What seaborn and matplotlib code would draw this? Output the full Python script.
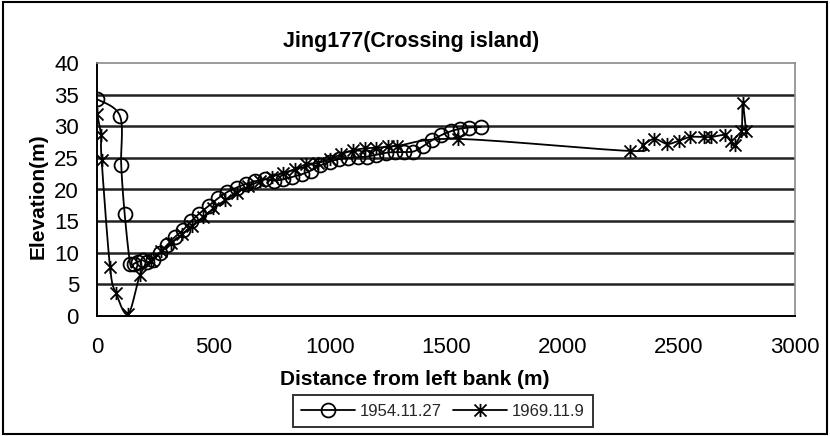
import numpy as np
import pandas as pd
import matplotlib
matplotlib.use("Agg")
import matplotlib.pyplot as plt
import seaborn as sns
from matplotlib.path import Path
from matplotlib.lines import Line2D
from matplotlib.patches import Rectangle

# Cross-section survey, Jing177 (crossing island)
dist_1954 = [0, 99, 104, 119, 143, 160, 178, 196, 215, 240, 270, 300, 335, 370,
             405, 440, 480, 520, 560, 600, 640, 680, 720, 760, 800, 840, 880,
             920, 960, 1000, 1040, 1080, 1120, 1160, 1200, 1240, 1280, 1320,
             1360, 1400, 1440, 1480, 1520, 1560, 1600, 1650]
elev_1954 = [34.3, 31.6, 23.9, 16.1, 8.2, 8.3, 8.6, 8.8, 8.5, 8.9, 10.0, 11.2,
             12.5, 13.6, 15.0, 16.2, 17.4, 18.6, 19.6, 20.3, 20.9, 21.3, 21.6,
             21.4, 21.6, 22.0, 22.4, 23.0, 23.8, 24.4, 24.8, 25.0, 25.1, 25.2,
             25.5, 25.8, 25.9, 25.9, 26.0, 26.8, 27.8, 28.6, 29.2, 29.6, 29.8,
             29.9]

dist_1969 = [0, 17, 20, 56, 82, 134, 185, 230, 275, 320, 365, 410, 455, 500,
             550, 600, 650, 700, 750, 800, 850, 900, 950, 1000, 1050, 1100,
             1150, 1200, 1250, 1290, 1550, 2290, 2345, 2395, 2450, 2500, 2550,
             2610, 2640, 2700, 2725, 2740, 2770, 2775, 2790]
elev_1969 = [32.0, 28.6, 24.6, 7.7, 3.6, 0.3, 6.5, 8.7, 10.2, 11.6, 12.9, 14.3,
             15.6, 17.0, 18.3, 19.5, 20.5, 21.3, 22.0, 22.6, 23.2, 24.0, 24.2,
             24.8, 25.6, 26.2, 26.5, 26.6, 26.8, 26.9, 28.0, 26.1, 27.0, 28.0,
             27.2, 27.7, 28.3, 28.3, 28.3, 28.6, 27.6, 27.0, 29.3, 33.6, 29.2]

series_labels = ["1954.11.27", "1969.11.9"]
x_ticks = [0, 500, 1000, 1500, 2000, 2500, 3000]
y_ticks = [0, 5, 10, 15, 20, 25, 30, 35, 40]
title = "Jing177(Crossing island)"
x_label = "Distance from left bank (m)"
y_label = "Elevation(m)"

sns.set_theme(style="white")
plt.rcParams["font.family"] = ["Liberation Sans", "DejaVu Sans"]

W, H, DPI = 830, 436, 100
fig = plt.figure(figsize=(W / DPI, H / DPI), dpi=DPI)
ax_rect = [97 / W, 1 - 316 / H, 698 / W, 253 / H]
ax = fig.add_axes(ax_rect)
xmin, xmax = x_ticks[0], x_ticks[-1]
ymin, ymax = y_ticks[0], y_ticks[-1]


def smooth(x, y, n=14):
    """Bezier smoothing of a polyline, evaluated in screen proportions."""
    sx = ax_rect[2] * W / (xmax - xmin)
    sy = ax_rect[3] * H / (ymax - ymin)
    P = np.column_stack([np.asarray(x, float) * sx, np.asarray(y, float) * sy])
    Pe = np.vstack([P[0], P, P[-1]])
    t = np.linspace(0, 1, n, endpoint=False)[:, None]
    parts = []
    for i in range(len(P) - 1):
        p0, p1, p2, p3 = Pe[i], Pe[i + 1], Pe[i + 2], Pe[i + 3]
        c1 = p1 + (p2 - p0) / 6
        c2 = p2 - (p3 - p1) / 6
        parts.append((1 - t) ** 3 * p1 + 3 * (1 - t) ** 2 * t * c1
                     + 3 * (1 - t) * t ** 2 * c2 + t ** 3 * p2)
    parts.append(P[-1:])
    pts = np.vstack(parts)
    return pts[:, 0] / sx, pts[:, 1] / sy


# asterisk marker: an X crossed by a vertical stroke
star = Path([(-1, -1), (1, 1), (-1, 1), (1, -1), (0, -1.1), (0, 1.1)],
            [Path.MOVETO, Path.LINETO] * 3)
CIRCLE_MS, STAR_MS = 10, 9.5

for y in y_ticks[1:-1]:
    ax.axhline(y, color="#222222", lw=1.8, zorder=1)

series = [(dist_1954, elev_1954, "o"), (dist_1969, elev_1969, star)]
for (dx, el, mk), lab in zip(series, series_labels):
    sx_, sy_ = smooth(dx, el)
    curve = pd.DataFrame({"d": sx_, "e": sy_})
    sns.lineplot(data=curve, x="d", y="e", sort=False, estimator=None,
                 color="black", lw=1.3, ax=ax, zorder=3)
    pts = pd.DataFrame({"d": dx, "e": el})
    sns.lineplot(data=pts, x="d", y="e", sort=False, estimator=None,
                 linestyle="", marker=mk,
                 markersize=CIRCLE_MS if mk == "o" else STAR_MS,
                 markerfacecolor="none", markeredgecolor="black",
                 markeredgewidth=1.3, ax=ax, zorder=4)

ax.set_xlim(xmin, xmax)
ax.set_ylim(ymin, ymax)
ax.set_xticks(x_ticks)
ax.set_yticks(y_ticks)
ax.tick_params(axis="both", which="both", direction="out", length=4, width=1.2,
               color="black", labelsize=16, labelcolor="black")
ax.tick_params(axis="x", pad=11)
ax.tick_params(axis="y", pad=9)
for side in ("left", "bottom"):
    ax.spines[side].set_color("black")
    ax.spines[side].set_linewidth(1.4)
for side in ("top", "right"):
    ax.spines[side].set_color("#8a8a8a")
    ax.spines[side].set_linewidth(1.2)

ax.set_xlabel(x_label, fontsize=15, fontweight="bold", color="black")
ax.xaxis.set_label_coords((415 - 97) / 698, -(379 - 316) / 253)
ax.xaxis.label.set_va("center")
ax.set_ylabel(y_label, fontsize=15, fontweight="bold", color="black")
ax.yaxis.set_label_coords(-(97 - 38) / 698, (316 - 196) / 253)
ax.yaxis.label.set_va("center")
fig.text(411 / W, 1 - 41 / H, title, ha="center", va="center",
         fontsize=15.5, fontweight="bold", color="black")

handles = [
    Line2D([], [], color="black", lw=1.3, marker="o", markersize=CIRCLE_MS,
           markerfacecolor="none", markeredgewidth=1.3),
    Line2D([], [], color="black", lw=1.3, marker=star, markersize=STAR_MS,
           markerfacecolor="none", markeredgewidth=1.3),
]
leg = fig.legend(handles, series_labels, loc="center", ncol=2,
                 bbox_to_anchor=(443 / W, 1 - 411 / H), fontsize=12,
                 frameon=True, fancybox=False, handlelength=3.2,
                 columnspacing=0.7, handletextpad=0.3, borderpad=0.5,
                 borderaxespad=0)
leg.get_frame().set_edgecolor("black")
leg.get_frame().set_linewidth(1.4)

fig.patches.append(Rectangle((0.004, 0.005), 0.992, 0.99, transform=fig.transFigure,
                             fill=False, ec="black", lw=1.5))

fig.savefig("out.png", dpi=DPI, facecolor="white")
